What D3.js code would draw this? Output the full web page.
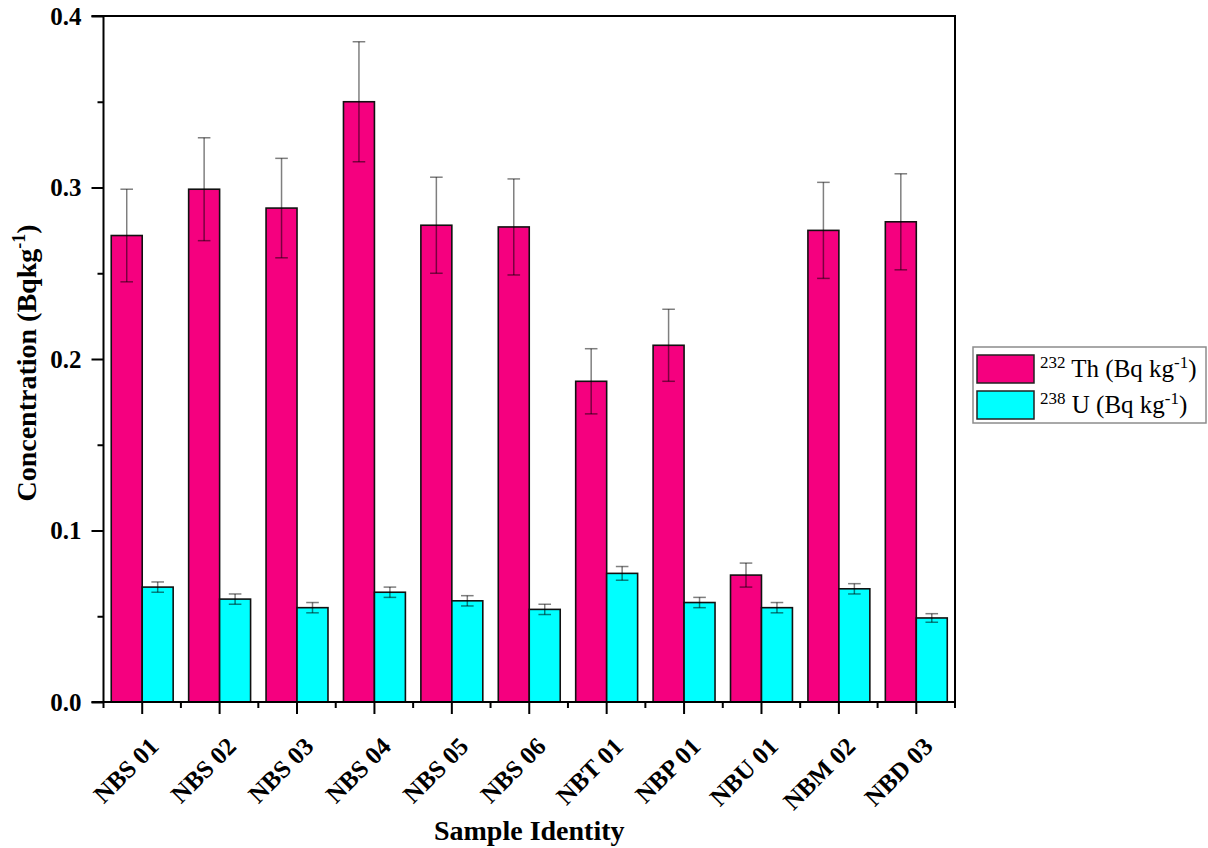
<!DOCTYPE html>
<html>
<head>
<meta charset="utf-8">
<script src="https://cdn.jsdelivr.net/npm/d3@7"></script>
<style>
  html, body { margin: 0; padding: 0; background: #fff; }
  svg { display: block; }
  text { font-family: "Liberation Serif", "Times New Roman", serif; fill: #000; }
</style>
</head>
<body>
<svg id="chart" width="1208" height="848"></svg>
<script>
// Sample identities along the x axis
const categories = ["NBS 01", "NBS 02", "NBS 03", "NBS 04", "NBS 05", "NBS 06",
                    "NBT 01", "NBP 01", "NBU 01", "NBM 02", "NBD 03"];

// 232Th activity concentration and its uncertainty (Bq kg-1)
const thValues = [0.272, 0.299, 0.288, 0.350, 0.278, 0.277, 0.187, 0.208, 0.074, 0.275, 0.280];
const thErrors = [0.027, 0.030, 0.029, 0.035, 0.028, 0.028, 0.019, 0.021, 0.007, 0.028, 0.028];

// 238U activity concentration and its uncertainty (Bq kg-1)
const uValues = [0.067, 0.060, 0.055, 0.064, 0.059, 0.054, 0.075, 0.058, 0.055, 0.066, 0.049];
const uErrors = [0.003, 0.003, 0.003, 0.003, 0.003, 0.003, 0.004, 0.003, 0.003, 0.003, 0.0025];

const yMajorTicks = [0.0, 0.1, 0.2, 0.3, 0.4];
const yMinorTicks = [0.05, 0.15, 0.25, 0.35];

const seriesKeys = ["th", "u"];
const seriesColors = { th: "#f5007f", u: "#00ffff" };

const svg = d3.select("#chart");
const plot = { left: 103.5, right: 955, top: 16, bottom: 702 };

const x = d3.scaleBand().domain(categories).range([plot.left, plot.right]).padding(0);
const x1 = d3.scaleBand().domain(seriesKeys).range([0, x.bandwidth()])
  .paddingInner(0).paddingOuter(0.25);
const y = d3.scaleLinear().domain([0, 0.4]).range([plot.bottom, plot.top]);

const rows = categories.map((c, i) => ({
  cat: c,
  bars: [
    { key: "th", value: thValues[i], err: thErrors[i] },
    { key: "u", value: uValues[i], err: uErrors[i] }
  ]
}));

// Bars
const groups = svg.append("g").selectAll("g").data(rows).join("g")
  .attr("transform", d => `translate(${x(d.cat)},0)`);

groups.selectAll("rect").data(d => d.bars).join("rect")
  .attr("x", d => x1(d.key))
  .attr("y", d => y(d.value))
  .attr("width", x1.bandwidth())
  .attr("height", d => y(0) - y(d.value))
  .attr("fill", d => seriesColors[d.key])
  .attr("stroke", "#111")
  .attr("stroke-width", 1.6);

// Error bars
const capHalf = 6.3;
const eb = groups.selectAll("g.err").data(d => d.bars).join("g")
  .attr("class", "err")
  .attr("stroke", "rgba(0,0,0,0.5)")
  .attr("stroke-width", 1.5);
eb.append("line")
  .attr("x1", d => x1(d.key) + x1.bandwidth() / 2)
  .attr("x2", d => x1(d.key) + x1.bandwidth() / 2)
  .attr("y1", d => y(d.value + d.err))
  .attr("y2", d => y(d.value - d.err));
eb.append("line")
  .attr("x1", d => x1(d.key) + x1.bandwidth() / 2 - capHalf)
  .attr("x2", d => x1(d.key) + x1.bandwidth() / 2 + capHalf)
  .attr("y1", d => y(d.value + d.err))
  .attr("y2", d => y(d.value + d.err));
eb.append("line")
  .attr("x1", d => x1(d.key) + x1.bandwidth() / 2 - capHalf)
  .attr("x2", d => x1(d.key) + x1.bandwidth() / 2 + capHalf)
  .attr("y1", d => y(d.value - d.err))
  .attr("y2", d => y(d.value - d.err));

// Frame: top and right border
svg.append("path")
  .attr("d", `M${plot.left - 12},${plot.top}H${plot.right}V${plot.bottom}`)
  .attr("fill", "none").attr("stroke", "#000").attr("stroke-width", 2);

// Y axis: major and minor ticks
const yAxis = svg.append("g").attr("transform", `translate(${plot.left},0)`)
  .call(d3.axisLeft(y).tickValues(yMajorTicks).tickSize(12).tickPadding(10)
    .tickFormat(d3.format(".1f")));
yAxis.select(".domain").attr("stroke-width", 2).attr("d", `M0,${plot.top}V${plot.bottom + 1}`);
yAxis.selectAll(".tick line").attr("stroke-width", 2);
yAxis.selectAll(".tick text")
  .style("font-family", "'Liberation Serif', 'Times New Roman', serif")
  .style("font-size", "25px").style("font-weight", "bold");

const yMinor = svg.append("g").attr("transform", `translate(${plot.left},0)`)
  .call(d3.axisLeft(y).tickValues(yMinorTicks).tickSize(6).tickFormat(""));
yMinor.select(".domain").remove();
yMinor.selectAll(".tick line").attr("stroke-width", 2);

// X axis: major ticks at group centres, minor ticks at group boundaries
const xAxis = svg.append("g").attr("transform", `translate(0,${plot.bottom})`)
  .call(d3.axisBottom(x).tickSize(12).tickFormat(""));
xAxis.select(".domain").attr("stroke-width", 2).attr("d", `M${plot.left - 12},0H${plot.right + 1}`);
xAxis.selectAll(".tick line").attr("stroke-width", 2);

const boundaries = categories.map(c => x(c)).concat([x.range()[1]]);
svg.append("g").selectAll("line").data(boundaries.slice(1)).join("line")
  .attr("x1", d => d).attr("x2", d => d)
  .attr("y1", plot.bottom).attr("y2", plot.bottom + 6)
  .attr("stroke", "#000").attr("stroke-width", 2);
svg.append("line")
  .attr("x1", plot.left).attr("x2", plot.left)
  .attr("y1", plot.bottom).attr("y2", plot.bottom + 6)
  .attr("stroke", "#000").attr("stroke-width", 2);

// Rotated category labels
svg.append("g").selectAll("text").data(categories).join("text")
  .attr("transform", d => `translate(${x(d) + x.bandwidth() / 2 + 18},748) rotate(-45)`)
  .attr("text-anchor", "end")
  .style("font-size", "25px").style("font-weight", "bold")
  .text(d => d);

// Axis titles
svg.append("text")
  .attr("x", (plot.left + plot.right) / 2).attr("y", 840)
  .attr("text-anchor", "middle")
  .style("font-size", "28px").style("font-weight", "bold")
  .text("Sample Identity");

const yt = svg.append("text")
  .attr("transform", `translate(36,${(plot.top + plot.bottom) / 2 + 4}) rotate(-90)`)
  .attr("text-anchor", "middle")
  .style("font-size", "28px").style("font-weight", "bold");
yt.append("tspan").text("Concentration (Bqkg");
yt.append("tspan").attr("dy", -11).style("font-size", "18px").text("-1");
yt.append("tspan").attr("dy", 11).text(")");

// Legend
const legend = svg.append("g").attr("transform", "translate(973,347)");
legend.append("rect")
  .attr("width", 233).attr("height", 76)
  .attr("fill", "#fff").attr("stroke", "#8c8c8c").attr("stroke-width", 1.5);

const legendItems = [
  { key: "th", iso: "232", el: "Th" },
  { key: "u", iso: "238", el: "U" }
];
const li = legend.selectAll("g.item").data(legendItems).join("g")
  .attr("class", "item")
  .attr("transform", (d, i) => `translate(4,${8 + i * 36})`);
li.append("rect")
  .attr("width", 57).attr("height", 28)
  .attr("fill", d => seriesColors[d.key])
  .attr("stroke", "#222").attr("stroke-width", 1.5);
const lt = li.append("text")
  .attr("x", 63).attr("y", 22)
  .style("font-size", "25px");
lt.append("tspan").attr("dy", -9).style("font-size", "17px").text(d => d.iso);
lt.append("tspan").attr("dy", 9).text(d => ` ${d.el} (Bq kg`);
lt.append("tspan").attr("dy", -9).style("font-size", "17px").text("-1");
lt.append("tspan").attr("dy", 9).text(")");
</script>
</body>
</html>
